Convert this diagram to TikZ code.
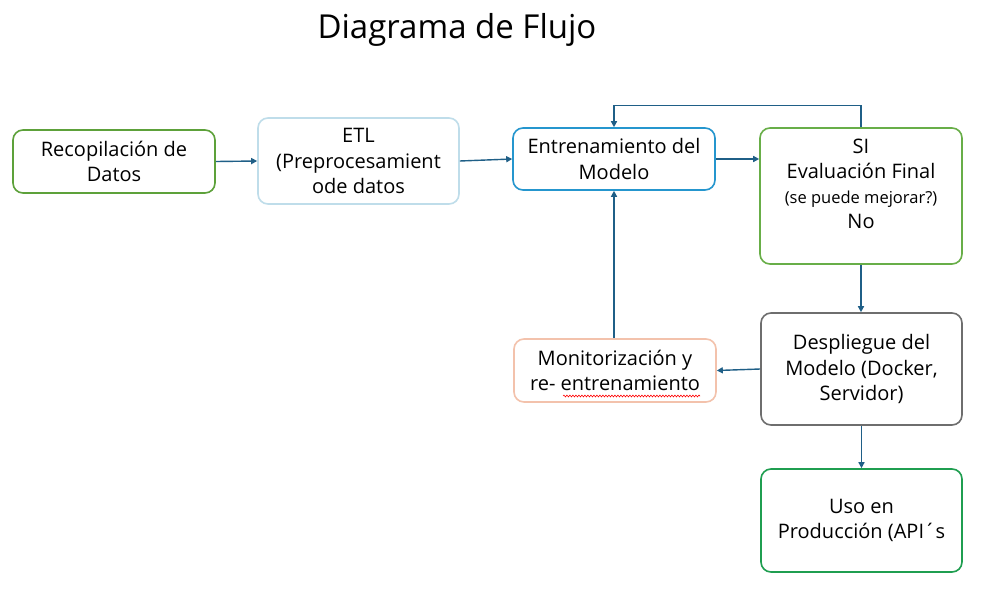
\documentclass[tikz,border=0pt]{standalone}
\usepackage{fontspec}
\setmainfont{Open Sans}
\usetikzlibrary{arrows.meta,decorations.pathmorphing}
\definecolor{cRec}{HTML}{5DA13A}
\definecolor{cEval}{HTML}{68AE48}
\definecolor{cUso}{HTML}{1F9E50}
\definecolor{cEtl}{HTML}{BFDDEA}
\definecolor{cEnt}{HTML}{2596CE}
\definecolor{cDesp}{HTML}{6E6E6E}
\definecolor{cMon}{HTML}{F3C2AC}
\definecolor{cArr}{HTML}{1F5F87}
\begin{document}
\begin{tikzpicture}[x=1pt,y=-1pt,
  box/.style={draw, rounded corners=10pt, line width=1.6pt, fill=white, align=center, inner sep=0pt,
    font=\fontsize{20}{25.5}\selectfont},
  conn/.style={draw=cArr, line width=1.4pt, -{Triangle[length=6pt,width=6pt]}}]
\useasboundingbox[fill=white] (0,0) rectangle (983,595);

\node[font=\fontsize{33}{40}\selectfont] (title) at (457,30) {Diagrama de Flujo};

\node[box, draw=cRec, minimum width=202pt, minimum height=63pt] (rec) at (114,161.5) {Recopilación de\\Datos};
\node[box, draw=cEtl, minimum width=201pt, minimum height=86pt] (etl) at (358.5,161) {ETL\\(Preprocesamient\\ode datos};
\node[box, draw=cEnt, minimum width=202pt, minimum height=62pt] (ent) at (614,159) {Entrenamiento del\\Modelo};
\node[box, draw=cEval, minimum width=202pt, minimum height=136pt] (eval) at (861,196) {};
\node[align=center, inner sep=0pt, font=\fontsize{20}{25}\selectfont] (evaltxt) at (861,184)
  {SI\\Evaluación Final\\{\fontsize{16.5}{25}\selectfont(se puede mejorar?)}\\No};
\node[box, draw=cDesp, minimum width=201pt, minimum height=112pt] (desp) at (861.5,369) {Despliegue del\\Modelo (Docker,\\Servidor)};
\node[box, draw=cMon, minimum width=202pt, minimum height=63pt] (mon) at (615,370.5) {Monitorización y\\re- entrenamiento};
\node[box, draw=cUso, minimum width=201pt, minimum height=103pt] (uso) at (861.5,520.5) {Uso en\\Producción (API´s};

\draw[red, line width=0.6pt, decorate, decoration={snake, amplitude=0.9pt, segment length=3pt}]
  (563,396) -- (700,396);

\draw[conn] (rec.east) -- (etl.west);
\draw[conn] (etl.east) -- (ent.west);
\draw[conn] (ent.east) -- (eval.west |- ent.east);
\draw[conn] (eval.north) -- ++(0,-22) -| (ent.north);
\draw[conn] (eval.south) -- (desp.north -| eval.south);
\draw[conn] (desp.west) -- (mon.east);
\draw[conn] (mon.north -| ent.south) -- (ent.south);
\draw[conn] (desp.south) -- (uso.north);
\end{tikzpicture}
\end{document}
